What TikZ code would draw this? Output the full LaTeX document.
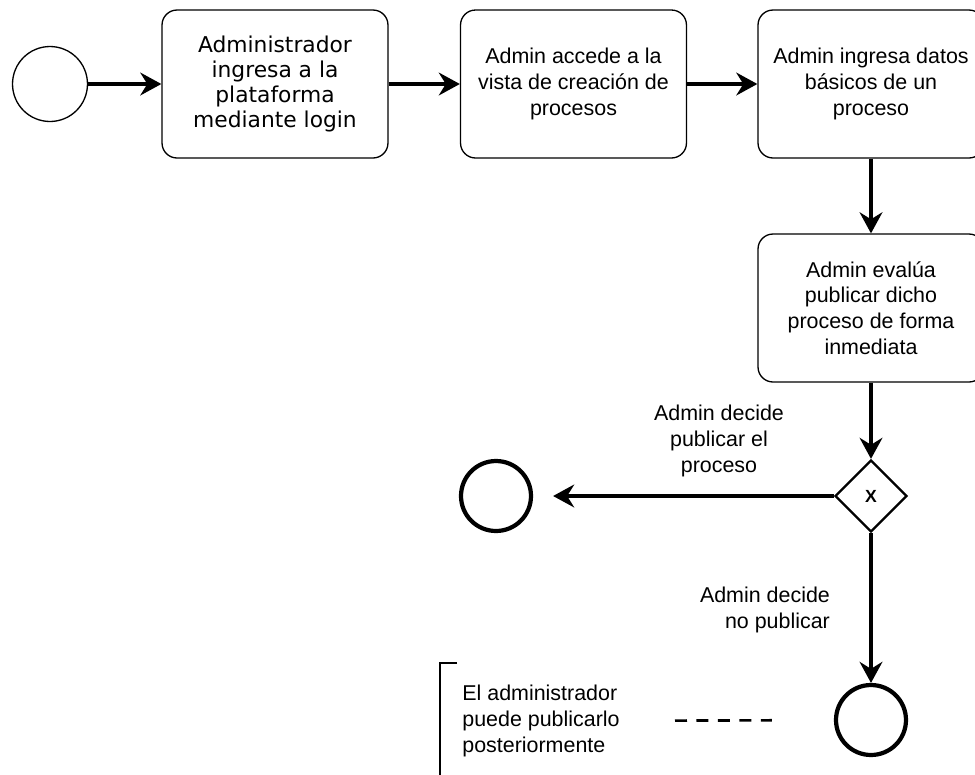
\documentclass[tikz,border=0pt]{standalone}
\usepackage{fontspec}
\setmainfont{Liberation Sans}
\newfontfamily\widefont{DejaVu Sans}
\usetikzlibrary{positioning,arrows.meta,shapes.geometric}
\newcommand{\labfont}{\fontsize{12.2}{14.7}\selectfont}
\tikzset{
  task/.style={draw, rounded corners=0.3cm, line width=0.75pt, minimum width=4.52cm,
    minimum height=2.96cm, align=center, font=\labfont, inner sep=2pt},
  startev/.style={draw, circle, line width=0.75pt, minimum size=1.5cm, inner sep=0pt},
  endev/.style={draw, circle, line width=2.4pt, minimum size=1.4cm, inner sep=0pt},
  gateway/.style={draw, diamond, line width=1.3pt, minimum size=1.44cm, inner sep=0pt,
    font=\fontsize{10}{12}\selectfont\bfseries},
  flow/.style={-{Stealth[length=12pt, width=13pt, inset=4pt]}, line width=1.8pt},
  lab/.style={font=\labfont, align=center, inner sep=1pt},
  assoc/.style={line width=1.5pt, dash pattern=on 0.24cm off 0.19cm},
  bracket/.style={line width=1.5pt},
}
\begin{document}
\begin{tikzpicture}[x=0.02cm, y=-0.02cm]
  \useasboundingbox (0,0) rectangle (975,775);

  % --- top row ---
  \node[startev] (start) at (50,84) {};
  \node[task, font=\widefont\fontsize{12.4}{14.4}\selectfont] (login) at (275,84)
    {Administrador\\ingresa a la\\plataforma\\mediante login};
  \node[task] (vista) at (573.5,84) {Admin accede a la\\vista de creación de\\procesos};
  \node[task] (datos) at (871,84) {Admin ingresa datos\\básicos de un\\proceso};

  % --- right column ---
  \node[task] (evalua) at (871,308) {Admin evalúa\\publicar dicho\\proceso de forma\\inmediata};
  \node[gateway] (gate) at (871,496) {X};
  \node[endev] (finpub) at (496,496) {};
  \node[endev] (finnopub) at (871,720) {};

  % branch labels
  \node[lab] (lpub) at (719,441) {Admin decide\\publicar el\\proceso};
  \node[lab, align=right, anchor=east] (lnopub) at (832,610) {Admin decide\\no publicar};

  % --- annotation ---
  \node[lab, align=left, anchor=west, inner sep=0pt] (note) at (462,721)
    {El administrador\\puede publicarlo\\posteriormente};
  \draw[bracket] (457,663) -- (440,663) -- (440,795) -- (457,795);

  % --- sequence flows ---
  \draw[flow] (start) -- (login);
  \draw[flow] (login) -- (vista);
  \draw[flow] (vista) -- (datos);
  \draw[flow] (datos) -- (evalua);
  \draw[flow] (evalua) -- (gate);
  \draw[flow, shorten >=0.4cm] (gate) -- (finpub);
  \draw[flow] (gate) -- (finnopub);
  \draw[assoc, shorten <=1.1cm, shorten >=1.24cm] (note) -- (finnopub);
\end{tikzpicture}
\end{document}
